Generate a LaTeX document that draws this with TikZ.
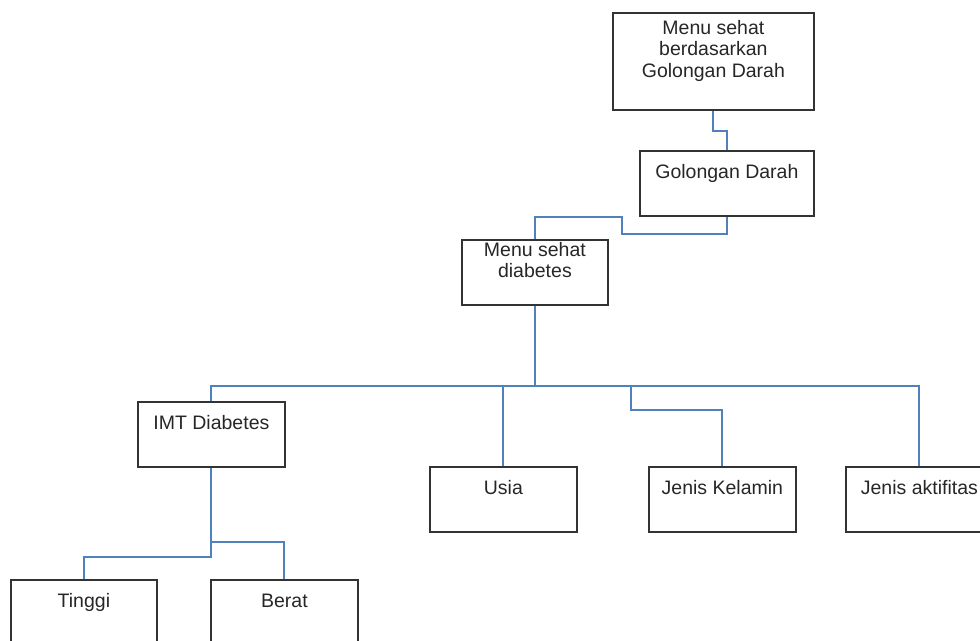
\documentclass[tikz,border=0pt]{standalone}
\usepackage{fontspec}
\setmainfont{Liberation Sans}
\usetikzlibrary{calc}
\definecolor{linkblue}{RGB}{79,129,189}
\newcommand{\boxtext}[4]{\parbox[t][#2][t]{#1}{\centering\vspace*{#3}\strut #4\par}}

\begin{document}
\begin{tikzpicture}
  [x=1pt,y=-1pt,
  box/.style={draw=black!80,line width=1.8pt,inner sep=0pt,anchor=north west,text=black!85,
    font=\fontsize{19.5}{21.5}\selectfont},
  link/.style={draw=linkblue,line width=1.9pt}]
  \useasboundingbox (0,0) rectangle (980,640);

  \node[box] (top) at (612,12) {\boxtext{201pt}{97pt}{6.5pt}{Menu sehat\\berdasarkan\\Golongan Darah}};
  \node[box] (gol) at (639,150) {\boxtext{174pt}{65pt}{12.5pt}{Golongan Darah}};
  \node[box] (diab) at (461,239) {\boxtext{146pt}{65pt}{1.5pt}{Menu sehat\\diabetes}};

  \node[box] (imt) at (137,401) {\boxtext{147pt}{65pt}{12.5pt}{IMT Diabetes}};
  \node[box] (usia) at (429,466) {\boxtext{147pt}{65pt}{12.5pt}{Usia}};
  \node[box] (jk) at (648,466) {\boxtext{147pt}{65pt}{12.5pt}{Jenis Kelamin}};
  \node[box] (ja) at (845,466) {\boxtext{147pt}{65pt}{12.5pt}{Jenis aktifitas}};

  \node[box] (tinggi) at (10,579) {\boxtext{146pt}{65pt}{12.5pt}{Tinggi}};
  \node[box] (berat) at (210,579) {\boxtext{147pt}{65pt}{12.5pt}{Berat}};

  \draw[link] (top.south) -- ++(0,20) -| (gol.north);
  \draw[link] (gol.south) -- ++(0,17) -- ++(-105,0) -- ++(0,-17) -| (diab.north);

  \coordinate (bus) at ($(diab.south)+(0,80)$);
  \draw[link] (diab.south) -- (bus) -| (imt.north);
  \draw[link] (bus) -| (ja.north);
  \draw[link] (usia.north) -- (usia.north |- bus);
  \draw[link] (jk.north) |- ++(-91.5,-56) coordinate (jkbend) -- (jkbend |- bus);

  \draw[link] (imt.south) -- ++(0,89) -| (tinggi.north);
  \draw[link] (imt.south) ++(0,74) -| (berat.north);

\end{tikzpicture}
\end{document}
